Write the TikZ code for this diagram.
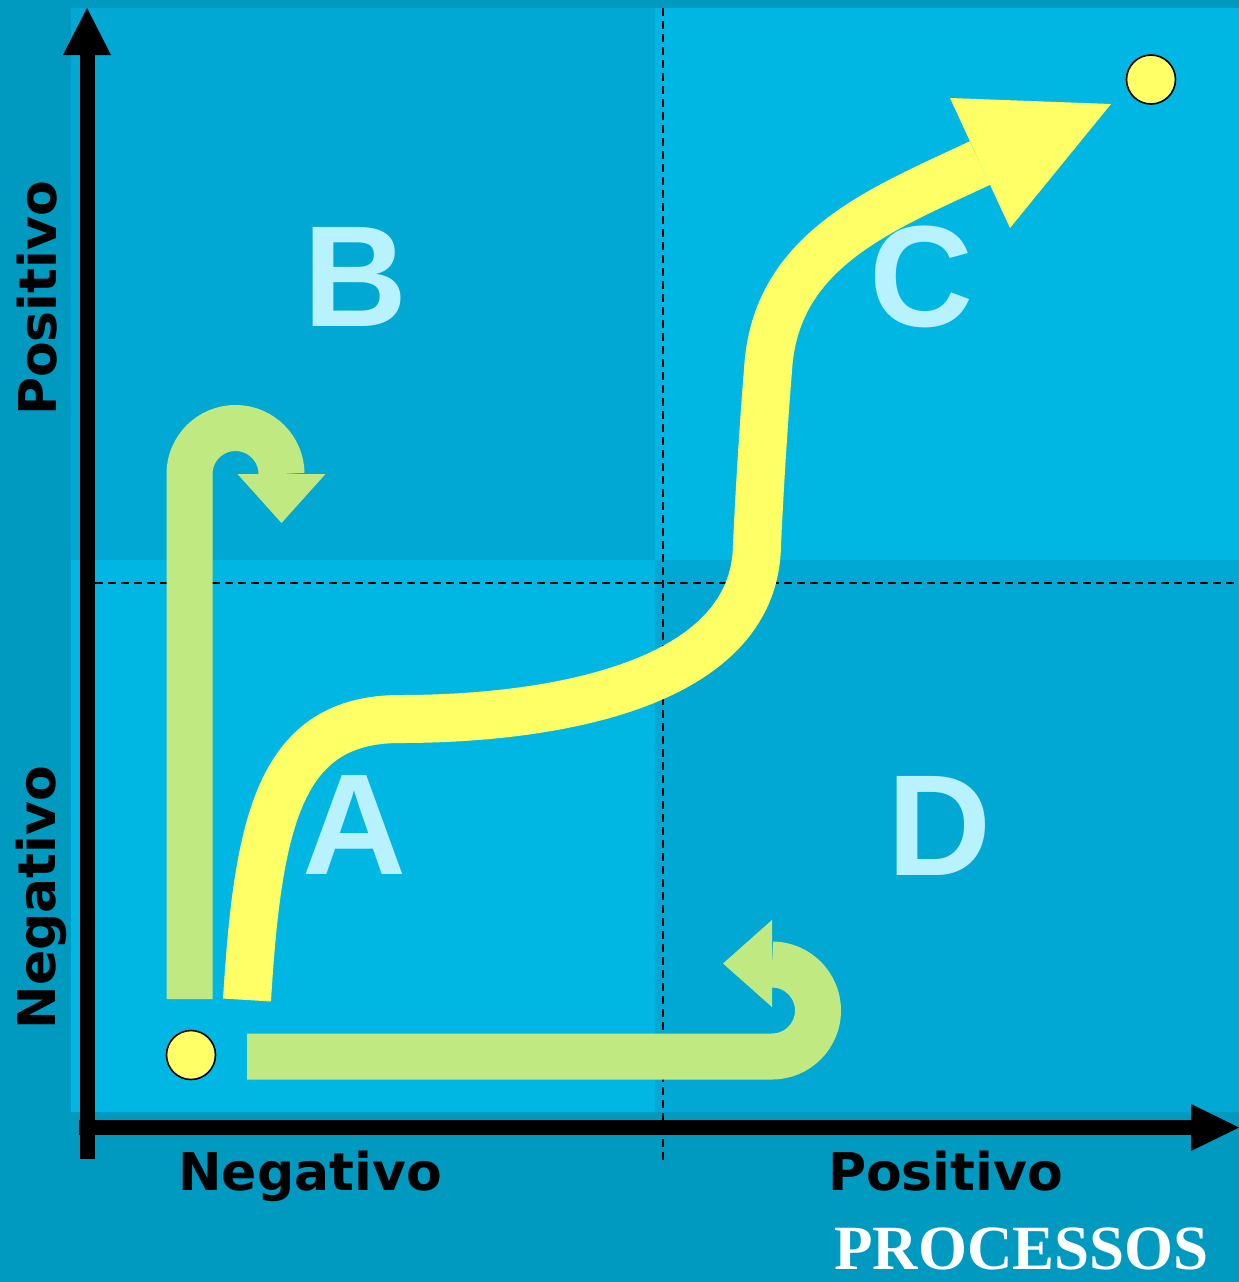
\documentclass[tikz,border=0pt]{standalone}
\usepackage{fontspec}
\newfontfamily\labfont{DejaVu Sans}
\newfontfamily\quadfont{Liberation Sans}
\newfontfamily\titlefont{Liberation Serif}
\definecolor{outerbg}{RGB}{0,153,191}
\definecolor{darkq}{RGB}{0,168,211}
\definecolor{lightq}{RGB}{0,183,228}
\definecolor{lettercol}{RGB}{185,242,255}
\definecolor{greencol}{RGB}{193,233,129}
\definecolor{yellowcol}{RGB}{255,255,102}
\begin{document}
\begin{tikzpicture}[x=0.5pt,y=-0.5pt,
  quadlabel/.style={font=\quadfont\bfseries\fontsize{72}{72}\selectfont, text=lettercol, inner sep=0pt, anchor=base},
  axislabel/.style={font=\labfont\bfseries\fontsize{26}{26}\selectfont, text=black, inner sep=0pt, anchor=base},
  titlelabel/.style={font=\titlefont\bfseries\fontsize{31.5}{31.5}\selectfont, text=white, inner sep=0pt, anchor=base},
  guide/.style={draw=black, line width=1pt, dash pattern=on 4pt off 2.5pt},
  axisline/.style={draw=black, line width=7.5pt},
  axishead/.style={fill=black},
  greenpath/.style={draw=greencol, line width=23pt},
  greenhead/.style={fill=greencol},
  yellowpath/.style={draw=yellowcol, line width=24pt},
  yellowhead/.style={fill=yellowcol},
  dot/.style={circle, fill=yellowcol, draw=black, line width=0.8pt, minimum size=24.5pt, inner sep=0pt}
]
% background and canvas
\fill[outerbg] (0,0) rectangle (1239,1282);
\useasboundingbox (0,0) rectangle (1239,1282);
% quadrants
\fill[darkq]  (71,8)    rectangle (655,560);
\fill[lightq] (655,8)   rectangle (1239,560);
\fill[lightq] (71,560)  rectangle (655,1112);
\fill[darkq]  (655,560) rectangle (1239,1112);
% dashed guides
\coordinate (vtop) at (663,8);
\coordinate (vbot) at (663,1160);
\coordinate (hleft) at (95,583);
\coordinate (hright) at (1239,583);
\draw[guide] (vtop) -- (vbot);
\draw[guide] (hleft) -- (hright);
% quadrant letters
\node[quadlabel] (qB) at (355,326) {B};
\node[quadlabel] (qC) at (921,326) {C};
\node[quadlabel] (qA) at (354,874) {A};
\node[quadlabel] (qD) at (939,875) {D};
% axes
\coordinate (yaxbot) at (87,1159);
\coordinate (yaxtop) at (87,54);
\coordinate (xaxleft) at (79,1127.5);
\coordinate (xaxright) at (1192,1127.5);
\draw[axisline] (yaxbot) -- (yaxtop);
\fill[axishead] (63,55) -- (111,55) -- (87,8) -- cycle;
\draw[axisline] (xaxleft) -- (xaxright);
\fill[axishead] (1191,1104) -- (1191,1151) -- (1239,1127.5) -- cycle;
% axis labels
\node[axislabel] (xneg) at (310,1190) {Negativo};
\node[axislabel] (xpos) at (945.5,1190) {Positivo};
\node[axislabel, rotate=90] (ypos) at (56,298.5) {Positivo};
\node[axislabel, rotate=90] (yneg) at (55,897.5) {Negativo};
\node[titlelabel] (title) at (1021.5,1269) {PROCESSOS};
% green U-turn arrows
\coordinate (g1s) at (189.5,999);
\coordinate (g1t) at (189.5,474);
\draw[greenpath] (g1s) -- (g1t) arc[start angle=180, end angle=0, radius=23pt];
\fill[greenhead] (237.5,474) -- (325.5,474) -- (281.5,523) -- cycle;
\coordinate (g2s) at (247,1056.5);
\coordinate (g2t) at (772,1056.5);
\draw[greenpath] (g2s) -- (g2t) arc[start angle=-90, end angle=90, radius=23pt];
\fill[greenhead] (772,920) -- (772,1007) -- (723,963.5) -- cycle;
% yellow path
\coordinate (ys) at (247,1000);
\coordinate (ye) at (980,163);
\draw[yellowpath] (ys) .. controls (258,820) and (280,719) .. (400,719)
   .. controls (540,719) and (755,690) .. (757,545)
   .. controls (760,480) and (764,420) .. (768,370)
   .. controls (775,250) and (880,210) .. (ye);
\fill[yellowhead] (950,98) -- (1111,104) -- (1010,228) -- cycle;
% dots
\node[dot] (start) at (191,1055) {};
\node[dot] (goal) at (1151,79.5) {};
\end{tikzpicture}
\end{document}
